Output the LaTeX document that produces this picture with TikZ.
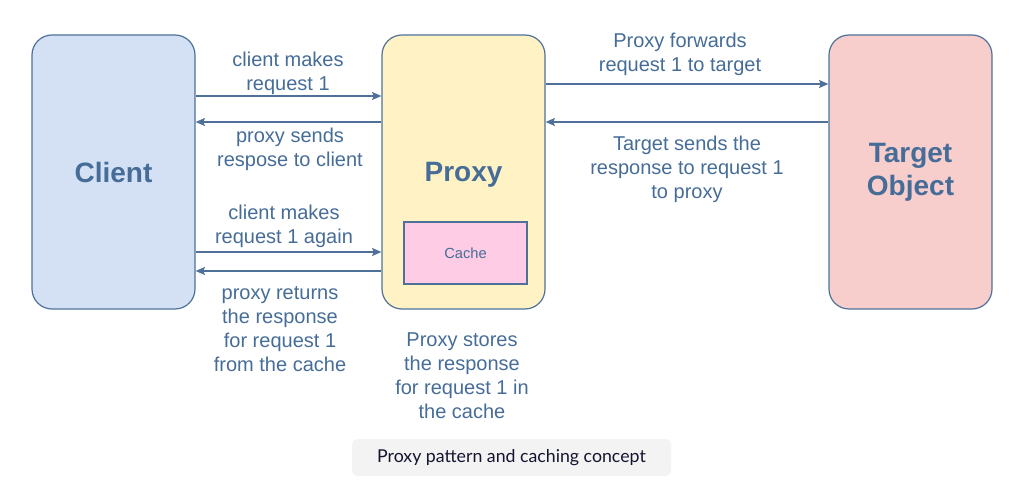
\documentclass[tikz,border=0pt]{standalone}
\usepackage{fontspec}
\setmainfont{Liberation Sans}
\newfontfamily\capfont{Lato}
\usetikzlibrary{arrows.meta}
\definecolor{txt}{HTML}{466C98}
\definecolor{edge}{HTML}{4F7199}
\definecolor{clientfill}{HTML}{D4E1F5}
\definecolor{proxyfill}{HTML}{FFF2C4}
\definecolor{targetfill}{HTML}{F8CECC}
\definecolor{cachefill}{HTML}{FFCCE6}
\definecolor{capfill}{HTML}{F3F3F3}
\definecolor{captxt}{HTML}{141430}
\tikzset{
  bigbox/.style={draw=edge, line width=0.9pt, rounded corners=15pt, minimum width=122.25pt, minimum height=205.5pt, inner sep=0pt, text=txt, font=\fontsize{21}{25}\selectfont\bfseries, align=center},
  cachebox/.style={draw=edge, line width=0.9pt, fill=cachefill, minimum width=92.25pt, minimum height=46.5pt, inner sep=0pt, text=txt, font=\fontsize{11}{13}\selectfont},
  lbl/.style={text=txt, font=\fontsize{15}{18}\selectfont, align=center, inner sep=0pt},
  arr/.style={draw=edge, line width=0.9pt, -{Stealth[length=7pt,width=6pt,inset=1.2pt]}},
}
\begin{document}
\begin{tikzpicture}[x=0.75pt,y=-0.75pt]
\useasboundingbox (0,0) rectangle (1024,491);
\node[bigbox, fill=clientfill] (client) at (113.5,172) {Client};
\node[bigbox, fill=proxyfill] (proxy) at (463.5,172) {};
\node[text=txt, font=\fontsize{21}{25}\selectfont\bfseries] (proxylbl) at (463.5,175) {Proxy};
\node[bigbox, fill=targetfill] (target) at (910.5,172) {Target\\Object};
\node[cachebox] (cache) at (465.5,253) {Cache};

\draw[arr] (client.east |- 0,96) -- (proxy.west |- 0,96);
\draw[arr] (proxy.west |- 0,122) -- (client.east |- 0,122);
\draw[arr] (client.east |- 0,252) -- (proxy.west |- 0,252);
\draw[arr] (proxy.west |- 0,271) -- (client.east |- 0,271);
\draw[arr] (proxy.east |- 0,84) -- (target.west |- 0,84);
\draw[arr] (target.west |- 0,122) -- (proxy.east |- 0,122);

\node[lbl] (l1) at (288,73) {client makes\\request 1};
\node[lbl] (l2) at (290,149) {proxy sends\\respose to client};
\node[lbl] (l3) at (284,226) {client makes\\request 1 again};
\node[lbl] (l4) at (280,329) {proxy returns\\the response\\for request 1\\from the cache};
\node[lbl] (l5) at (680,54) {Proxy forwards\\request 1 to target};
\node[lbl] (l6) at (687,169) {Target sends the\\response to request 1\\to proxy};
\node[lbl] (l7) at (462,376) {Proxy stores\\the response\\for request 1 in\\the cache};

\node[fill=capfill, rounded corners=4pt, minimum width=239.25pt, minimum height=27.75pt, inner sep=0pt, text=captxt, font=\capfont\fontsize{13.3}{15}\selectfont] (caption) at (511.5,457.5) {Proxy pattern and caching concept};
\end{tikzpicture}
\end{document}
